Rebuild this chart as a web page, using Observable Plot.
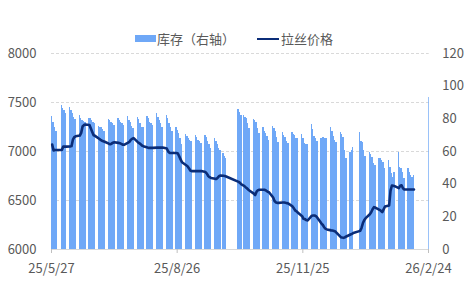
<!DOCTYPE html>
<html><head><meta charset="utf-8">
<script src="https://cdn.jsdelivr.net/npm/d3@7"></script>
<script src="https://cdn.jsdelivr.net/npm/@observablehq/plot@0.6"></script>
<style>
body{margin:0;background:#fff;}
#wrap{position:relative;width:474px;height:283px;font-family:"Noto Sans CJK SC","Noto Sans",sans-serif;color:#595959;}
.lg{position:absolute;font-size:13px;line-height:13px;color:#595959;white-space:nowrap;}
.sw{position:absolute;}
</style></head><body>
<div id="wrap">
  <div class="sw" style="left:135px;top:35px;width:21px;height:7px;background:#6fa8f7;"></div>
  <div class="lg" style="left:157px;top:32px;">库存（右轴）</div>
  <div class="sw" style="left:257px;top:37.5px;width:22px;height:2.5px;background:#0b2d78;"></div>
  <div class="lg" style="left:281px;top:32px;">拉丝价格</div>
</div>
<script>
// ---- data ----
const dates = [
"2025-05-27","2025-05-28","2025-05-29","2025-05-30",
"2025-06-03","2025-06-04","2025-06-05","2025-06-06",
"2025-06-09","2025-06-10","2025-06-11","2025-06-12","2025-06-13",
"2025-06-16","2025-06-17","2025-06-18","2025-06-19","2025-06-20",
"2025-06-23","2025-06-24","2025-06-25","2025-06-26","2025-06-27",
"2025-06-30","2025-07-01","2025-07-02","2025-07-03","2025-07-04",
"2025-07-07","2025-07-08","2025-07-09","2025-07-10","2025-07-11",
"2025-07-14","2025-07-15","2025-07-16","2025-07-17","2025-07-18",
"2025-07-21","2025-07-22","2025-07-23","2025-07-24","2025-07-25",
"2025-07-28","2025-07-29","2025-07-30","2025-07-31","2025-08-01",
"2025-08-04","2025-08-05","2025-08-06","2025-08-07","2025-08-08",
"2025-08-11","2025-08-12","2025-08-13","2025-08-14","2025-08-15",
"2025-08-18","2025-08-19","2025-08-20","2025-08-21","2025-08-22",
"2025-08-25","2025-08-26","2025-08-27","2025-08-28","2025-08-29",
"2025-09-01","2025-09-02","2025-09-03","2025-09-04","2025-09-05",
"2025-09-08","2025-09-09","2025-09-10","2025-09-11","2025-09-12",
"2025-09-15","2025-09-16","2025-09-17","2025-09-18","2025-09-19",
"2025-09-22","2025-09-23","2025-09-24","2025-09-25","2025-09-26",
"2025-09-28","2025-09-29","2025-09-30",
"2025-10-09","2025-10-10","2025-10-11",
"2025-10-13","2025-10-14","2025-10-15","2025-10-16","2025-10-17",
"2025-10-20","2025-10-21","2025-10-22","2025-10-23","2025-10-24",
"2025-10-27","2025-10-28","2025-10-29","2025-10-30","2025-10-31",
"2025-11-03","2025-11-04","2025-11-05","2025-11-06","2025-11-07",
"2025-11-10","2025-11-11","2025-11-12","2025-11-13","2025-11-14",
"2025-11-17","2025-11-18","2025-11-19","2025-11-20","2025-11-21",
"2025-11-24","2025-11-25","2025-11-26","2025-11-27","2025-11-28",
"2025-12-01","2025-12-02","2025-12-03","2025-12-04","2025-12-05",
"2025-12-08","2025-12-09","2025-12-10","2025-12-11","2025-12-12",
"2025-12-15","2025-12-16","2025-12-17","2025-12-18","2025-12-19",
"2025-12-22","2025-12-23","2025-12-24","2025-12-25","2025-12-26",
"2025-12-29","2025-12-30","2025-12-31",
"2026-01-05","2026-01-06","2026-01-07","2026-01-08","2026-01-09",
"2026-01-12","2026-01-13","2026-01-14","2026-01-15","2026-01-16",
"2026-01-19","2026-01-20","2026-01-21","2026-01-22","2026-01-23",
"2026-01-26","2026-01-27","2026-01-28","2026-01-29","2026-01-30",
"2026-02-02","2026-02-03","2026-02-04","2026-02-05","2026-02-06",
"2026-02-09","2026-02-10","2026-02-11","2026-02-12","2026-02-13",
"2026-02-24"
];
const inventory = [
81.5,78,75,72.5,
88,86.5,85,83.5,
87,85,83,81,79.5,
82,80.5,79,78.5,78,
80.5,80,79,78,77,
75.5,75,74.5,73.5,72.5,
79.5,79,78,77,76,
80,79,78,77,76,
81.5,79,77.5,75.5,74,
81,79.5,77,75,75,
81.5,80,78,77,76,
83,81,79,77,75,
82,80,77,75,72,
74.5,73,71,68,64,
70.4,69,68,67,66,
69.5,68.5,67,66,65,
69.8,68.5,66,64,62,
67.8,66,64,61.6,60.6,
58.6,57,55.5,
85.7,84,82,
82,81,80,77,74,
79.6,79,77.5,74,71,
74.5,72,71,69,66.7,
75.5,74,72,68.8,65.7,
71.4,70,68.5,66,64.7,
71.4,70.2,69.5,68.2,67.8,
70.4,68,64.7,64.5,64.3,
76.3,73.3,69.4,68,66.1,
68.2,68.6,68.4,68.2,68,
74.5,72.5,69.4,66.7,65.3,
71.4,70.4,68.8,60.6,55.5,
59.6,60.5,62.3,
71.4,66.1,65.3,60.6,56.9,
59.6,58.2,56.5,52.5,51.4,
55.5,55.5,54.5,53.5,49.4,
54.5,50.4,46.3,44.3,47,
59.6,50.4,49.4,47,43.3,
49.4,47,45.3,44.3,45.3,
93.3
];
const price = [
7070,7010,7015,7015,
7015,7050,7050,7050,
7051,7055,7120,7146,7155,
7163,7190,7255,7270,7275,
7270,7235,7200,7165,7160,
7130,7119,7110,7105,7100,
7080,7075,7080,7090,7095,
7088,7085,7078,7070,7068,
7090,7100,7120,7130,7136,
7095,7085,7075,7061,7054,
7040,7037,7037,7037,7037,
7040,7040,7040,7040,7040,
7030,7000,6985,6985,6985,
6985,6980,6950,6920,6890,
6860,6850,6830,6806,6800,
6800,6800,6800,6800,6800,
6790,6775,6750,6738,6730,
6721,6721,6735,6750,6755,
6752,6750,6745,
6690,6680,6665,
6650,6636,6625,6610,6600,
6570,6555,6590,6605,6609,
6609,6608,6600,6590,6585,
6530,6495,6480,6476,6476,
6480,6480,6476,6473,6470,
6440,6420,6398,6390,6375,
6340,6313,6310,6300,6296,
6345,6347,6347,6340,6325,
6265,6250,6225,6211,6205,
6195,6194,6190,6184,6170,
6126,6122,6119,6125,6133,
6153,6160,6168,
6190,6220,6270,6300,6320,
6360,6380,6410,6432,6428,
6405,6395,6381,6410,6439,
6449,6600,6653,6650,6646,
6626,6650,6655,6625,6612,
6612,6612,6612,6612,6612,
null
];
const leftTicks = [6000,6500,7000,7500,8000];
const rightTicks = [0,20,40,60,80,100,120];
const xTickDates = ["2025-05-27","2025-08-26","2025-11-25","2026-02-24"];

// ---- build ----
const DAY = 864e5;
const P0 = 6000, P1 = 8000, R1 = 120;
const invToY = v => P0 + v * (P1 - P0) / R1;
const parse = s => new Date(s + "T00:00:00Z");
const rows = dates.map((d, i) => ({date: parse(d), inv: inventory[i], price: price[i]}));
const lineRows = rows.filter(r => r.price != null);
const fmt = d => `${String(d.getUTCFullYear()).slice(2)}/${d.getUTCMonth()+1}/${d.getUTCDate()}`;

const chart = Plot.plot({
  width: 474, height: 283,
  marginLeft: 51, marginRight: 45.3, marginTop: 53, marginBottom: 34,
  style: {fontFamily: '"Noto Sans CJK SC","Noto Sans",sans-serif', fontSize: "13px", color: "#595959", background: "white"},
  x: {type: "utc", domain: [parse("2025-05-27"), new Date(+parse("2026-02-24") + DAY/2)]},
  y: {domain: [P0, P1]},
  marks: [
    Plot.gridY(leftTicks.slice(1), {stroke: "#d9d9d9", strokeOpacity: 1, strokeDasharray: "3,2"}),
    Plot.rect(rows, {
      x1: "date", x2: d => new Date(+d.date + DAY),
      y1: () => invToY(0), y2: d => invToY(d.inv),
      fill: "#6fa8f7", clip: true, shapeRendering: "crispEdges"
    }),
    Plot.ruleY([P0], {stroke: "#d9d9d9"}),
    Plot.line(lineRows, {x: d => new Date(+d.date + DAY/2), y: "price", stroke: "#0b2d78", strokeWidth: 2.6, curve: "linear"}),
    Plot.axisY(leftTicks, {anchor: "left", tickSize: 0, tickPadding: 15, label: null, tickFormat: d => String(d)}),
    Plot.axisY(rightTicks.map(invToY), {anchor: "right", tickSize: 0, tickPadding: 13, label: null,
      tickFormat: v => String(Math.round((v - P0) * R1 / (P1 - P0)))}),
    Plot.axisX(xTickDates.map(parse), {tickSize: 4, tickPadding: 10, stroke: "#bfbfbf", tickFormat: fmt, label: null})
  ]
});
document.getElementById("wrap").appendChild(chart);
</script>
</body></html>
